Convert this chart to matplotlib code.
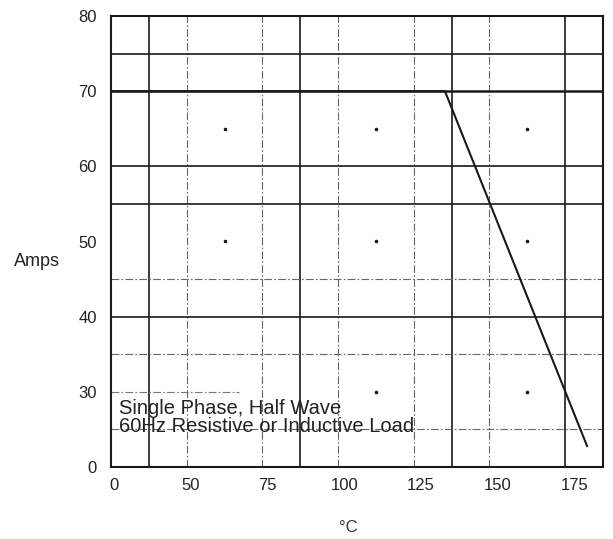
import numpy as np
import matplotlib.pyplot as plt

plt.rcParams['font.family'] = ['Liberation Sans', 'DejaVu Sans']

# derating curve
temp = [24, 132.8, 179.1]
amps = [70, 70, 22.8]

xticks = [25, 50, 75, 100, 125, 150, 175]
xlabels = ['0', '50', '75', '100', '125', '150', '175']
yticks = [20, 30, 40, 50, 60, 70, 80]
ylabels = ['0', '30', '40', '50', '60', '70', '80']

xmin, xmax = 24, 184.3
ymin, ymax = 20, 80

fig = plt.figure(figsize=(6.13, 5.39), dpi=100)
ax = fig.add_axes([111/613, 72/539, 492/613, 451/539])
ax.set_xlim(xmin, xmax)
ax.set_ylim(ymin, ymax)

ink = '#1a1a1a'
dd = (0, (7, 2, 1.5, 2))

# vertical grid, 13 cells across
vx = np.linspace(xmin, xmax, 14)
vstyle = [None, 'solid', 'dd', 'dot', 'dd', 'solid', 'dd', 'dot', 'dd', 'solid', 'dd', 'dot', 'solid', None]
for x, s in zip(vx, vstyle):
    if s == 'solid':
        ax.axvline(x, color=ink, lw=1.2)
    elif s == 'dd':
        ax.axvline(x, color='#666666', lw=0.8, ls=dd)

# horizontal grid every 5 A
hy = np.arange(20, 81, 5)
hstyle = [None, 'dd', 'part', 'dd', 'solid', 'dd', 'dot', 'solid', 'solid', 'dot', 'thick', 'solid', None]
for y, s in zip(hy, hstyle):
    if s == 'solid':
        ax.axhline(y, color=ink, lw=1.2)
    elif s == 'thick':
        ax.axhline(y, color=ink, lw=1.8)
    elif s == 'dd':
        ax.axhline(y, color='#666666', lw=0.8, ls=dd)
    elif s == 'part':
        ax.axhline(y, xmax=0.26, color='#777777', lw=0.8, ls=dd)

# little dots where no grid line is drawn
dx = [vx[3], vx[7], vx[11], vx[3], vx[7], vx[11], vx[7], vx[11]]
dy = [65, 65, 65, 50, 50, 50, 30, 30]
ax.plot(dx, dy, 'o', color=ink, ms=1.6)

ax.plot(temp, amps, color=ink, lw=1.5)

for sp in ax.spines.values():
    sp.set_color(ink)
    sp.set_linewidth(1.5)

ax.set_xticks(xticks)
ax.set_xticklabels(xlabels)
ax.set_yticks(yticks)
ax.set_yticklabels(ylabels)
ax.tick_params(length=0, labelsize=12, labelcolor='#222222')
ax.tick_params(axis='x', pad=8)
ax.tick_params(axis='y', pad=10)

ax.text(26.5, 29.0, 'Single Phase, Half Wave\n60Hz Resistive or Inductive Load',
        fontsize=14.5, color='#222222', va='top', linespacing=0.92)

fig.text(14/613, 1 - 262/539, 'Amps', fontsize=13, color='#222222', va='center', ha='left')
fig.text(348/613, 1 - 527/539, '°C', fontsize=12, color='#333333', va='center', ha='center')

fig.savefig('out.png', dpi=100)
